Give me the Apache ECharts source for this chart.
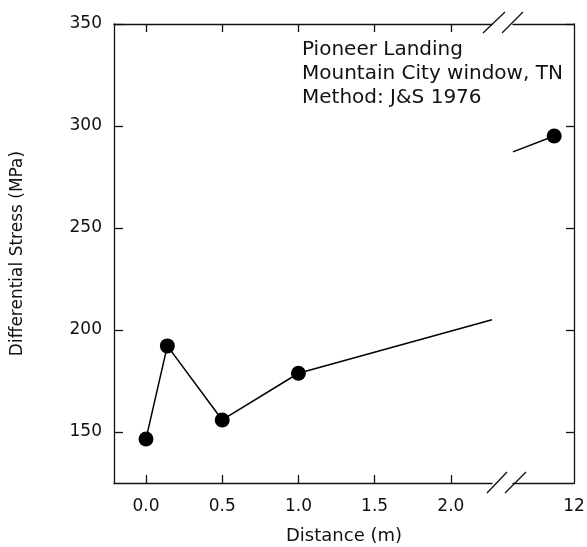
<!DOCTYPE html>
<html>
<head>
<meta charset="utf-8">
<script src="https://cdn.jsdelivr.net/npm/echarts@6/dist/echarts.min.js"></script>
<style>html,body{margin:0;padding:0;background:#fff;}#c{width:587px;height:547px;}</style>
</head>
<body>
<div id="c"></div>
<script>
// Near segment (0 - 2.3 m)
const nearX = [0, 0.14, 0.5, 1.0];
const nearY = [146.6, 192.2, 155.9, 178.8];
// line continuing to the axis break (no marker)
const nearTail = [2.27, 205];
// Far segment (after break)
const farStart = [11.6, 287.3];
const farX = [11.87];
const farY = [295.1];
const xTicksNear = [0, 0.5, 1.0, 1.5, 2.0];
const xTicksFar = [12];
const yTicks = [150, 200, 250, 300, 350];
const annotation = ['Pioneer Landing', 'Mountain City window, TN', 'Method: J&S 1976'];

const FONT = 'DejaVu Sans';
const chart = echarts.init(document.getElementById('c'), null, {renderer: 'canvas'});

const nearData = nearX.map((x, i) => [x, nearY[i]]);
nearData.push({value: nearTail, symbol: 'none'});
const farData = [{value: farStart, symbol: 'none'}].concat(farX.map((x, i) => [x, farY[i]]));

const axLine = {show: true, onZero: false, lineStyle: {color: '#111', width: 1.3}};
const G1 = {left: 114, top: 24, width: 378, height: 459, containLabel: false, outerBoundsMode: 'none'};
const G2 = {left: 513, top: 24, width: 61, height: 459, containLabel: false, outerBoundsMode: 'none'};

chart.setOption({
  animation: false,
  grid: [G1, G2],
  xAxis: [
    {gridIndex: 0, type: 'value', position: 'bottom', min: -0.21, max: 2.27,
     axisLine: axLine, splitLine: {show: false},
     axisTick: {show: true, inside: true, length: 8, customValues: xTicksNear, lineStyle: {color: '#111', width: 1.3}},
     axisLabel: {customValues: xTicksNear, formatter: v => v.toFixed(1), margin: 15,
                 fontFamily: FONT, fontSize: 17, color: '#111'}},
    {gridIndex: 0, type: 'value', position: 'top', min: -0.21, max: 2.27,
     axisLine: axLine, splitLine: {show: false},
     axisTick: {show: true, inside: true, length: 8, customValues: xTicksNear, lineStyle: {color: '#111', width: 1.3}},
     axisLabel: {show: false}},
    {gridIndex: 1, type: 'value', position: 'bottom', min: 11.6, max: 12,
     axisLine: axLine, splitLine: {show: false},
     axisTick: {show: false},
     axisLabel: {customValues: xTicksFar, formatter: v => String(v), margin: 15,
                 fontFamily: FONT, fontSize: 17, color: '#111'}},
    {gridIndex: 1, type: 'value', position: 'top', min: 11.6, max: 12,
     axisLine: axLine, splitLine: {show: false},
     axisTick: {show: false}, axisLabel: {show: false}}
  ],
  yAxis: [
    {gridIndex: 0, type: 'value', position: 'left', min: 125, max: 350,
     name: 'Differential Stress (MPa)', nameLocation: 'middle', nameGap: 88,
     nameTextStyle: {fontFamily: FONT, fontSize: 17, color: '#111'},
     axisLine: axLine, splitLine: {show: false},
     axisTick: {show: true, inside: true, length: 9, customValues: yTicks, lineStyle: {color: '#111', width: 1.3}},
     axisLabel: {customValues: yTicks, margin: 12, fontFamily: FONT, fontSize: 17, color: '#111'}},
    {gridIndex: 1, type: 'value', position: 'right', min: 125, max: 350,
     axisLine: axLine, splitLine: {show: false},
     axisTick: {show: true, inside: true, length: 8, customValues: yTicks, lineStyle: {color: '#111', width: 1.3}},
     axisLabel: {show: false}}
  ],
  series: [
    {type: 'line', xAxisIndex: 0, yAxisIndex: 0, data: nearData,
     symbol: 'circle', symbolSize: 15, clip: false,
     lineStyle: {color: '#000', width: 1.5}, itemStyle: {color: '#000'}},
    {type: 'line', xAxisIndex: 2, yAxisIndex: 1, data: farData,
     symbol: 'circle', symbolSize: 15, clip: false,
     lineStyle: {color: '#000', width: 1.5}, itemStyle: {color: '#000'}}
  ],
  graphic: [
    {type: 'text', left: 302, top: 38, style: {text: annotation.join('\n'), lineHeight: 24,
      font: '20px "' + FONT + '"', fill: '#111'}},
    {type: 'text', x: 344, y: 527, style: {text: 'Distance (m)', font: '18px "' + FONT + '"', fill: '#111', align: 'center'}},
    // axis break marks (top)
    {type: 'line', shape: {x1: 483, y1: 33, x2: 505, y2: 12}, style: {stroke: '#111', lineWidth: 1.3}},
    {type: 'line', shape: {x1: 502, y1: 33, x2: 523, y2: 12}, style: {stroke: '#111', lineWidth: 1.3}},
    // axis break marks (bottom)
    {type: 'line', shape: {x1: 487, y1: 493, x2: 507, y2: 472}, style: {stroke: '#111', lineWidth: 1.3}},
    {type: 'line', shape: {x1: 505, y1: 493, x2: 526, y2: 472}, style: {stroke: '#111', lineWidth: 1.3}}
  ]
});
</script>
</body>
</html>
